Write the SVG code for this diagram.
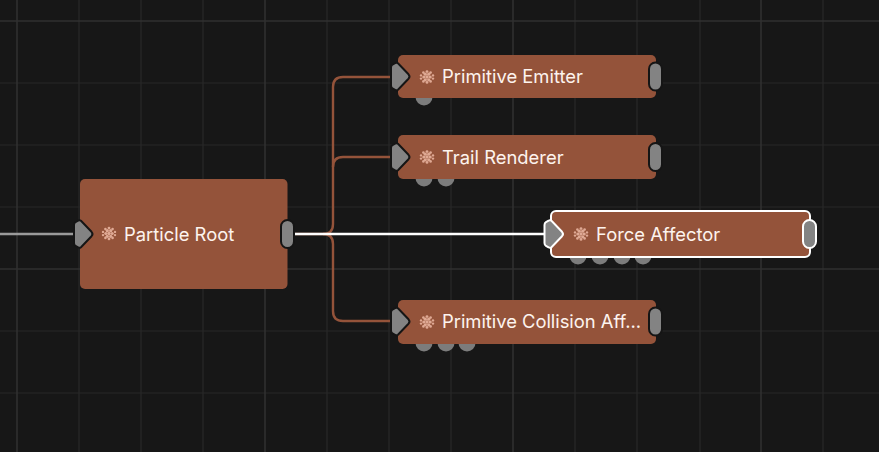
<svg xmlns="http://www.w3.org/2000/svg" width="879" height="452" viewBox="0 0 879 452">
<style>
.g{stroke:#282828;stroke-width:1.2;fill:none}
.G{stroke:#303030;stroke-width:1.6;fill:none}
.body{fill:#94533a}
.tab{fill:#7c7c7c}
.pin{fill:#838383;stroke:#151515;stroke-width:2}
.sel .pin{stroke:#fff}
.sel .body{stroke:#fff;stroke-width:2}
.lb{font-family:Inter,"Liberation Sans",sans-serif;font-size:18.4px;fill:#fdf3ee}
.c{fill:none;stroke:#94533a;stroke-width:2.4}
</style>
<defs>
<g id="ic" fill="#dfa994">
<circle cx="0" cy="0" r="1.7"/><circle cx="-3.2" cy="0" r="1.6"/><circle cx="3.2" cy="0" r="1.6"/>
<circle cx="-1.7" cy="-2.8" r="1.6"/><circle cx="1.7" cy="-2.8" r="1.6"/><circle cx="-1.7" cy="2.8" r="1.6"/><circle cx="1.7" cy="2.8" r="1.6"/>
<circle cx="0" cy="-5.4" r="1.4"/><circle cx="0" cy="5.4" r="1.4"/><circle cx="-3.6" cy="-4.4" r="1.3"/><circle cx="3.6" cy="-4.4" r="1.3"/><circle cx="-3.6" cy="4.4" r="1.3"/><circle cx="3.6" cy="4.4" r="1.3"/><circle cx="-6" cy="-1.6" r="1.2"/><circle cx="6" cy="-1.6" r="1.2"/><circle cx="-6" cy="1.6" r="1.2"/><circle cx="6" cy="1.6" r="1.2"/>
</g>
<path id="in" d="M-5 -9Q-5 -11 -3.500 -12L-1 -13.300Q0.500 -14.400 2 -13.200L12.500 -2.200Q14.500 0 12.500 2.200L2 13.200Q0.500 14.400 -1 13.300L-3.500 12Q-5 11 -5 9Z"/>
<rect id="out" x="-6.500" y="-14" width="13" height="28" rx="6.500"/>
</defs>
<rect width="879" height="452" fill="#171717"/>
<g id="grid">
<path class="g" d="M79 0V452M141 0V452M203 0V452M327 0V452M389 0V452M451 0V452M575 0V452M637 0V452M700 0V452M823 0V452M0 83H879M0 145H879M0 207H879M0 331H879M0 393H879"/>
<path class="G" d="M17 0V452M265 0V452M513 0V452M761 0V452M0 21H879M0 269H879"/>
</g>
<g id="connectors">
<path d="M0 234H76" fill="none" stroke="#9a9a9a" stroke-width="2.400"/>
<path class="c" d="M294 234H323Q333 234 333 224V87Q333 77 343 77H393"/>
<path class="c" d="M333 167Q333 157 343 157H393"/>
<path class="c" d="M323 234Q333 234 333 244V311Q333 321 343 321H393"/>
<path d="M294 234H546" fill="none" stroke="#fff" stroke-width="2.400"/>
</g>
<g id="particle-root">
<rect class="body" x="80" y="179" width="207.500" height="110" rx="5"/>
<use href="#in" class="pin" x="79" y="234"/>
<use href="#out" class="pin" x="287.500" y="234"/>
<use href="#ic" x="109" y="233.500"/>
<text class="lb" x="124" y="240.500">Particle Root</text>
</g>
<g id="primitive-emitter">
<circle class="tab" cx="424" cy="97" r="8.500"/>
<rect class="body" x="398" y="55" width="258" height="43" rx="5"/>
<use href="#in" class="pin" x="396" y="76.500"/>
<use href="#out" class="pin" x="655.500" y="76.500"/>
<use href="#ic" x="427" y="77"/>
<text class="lb" x="442" y="83">Primitive Emitter</text>
</g>
<g id="trail-renderer">
<circle class="tab" cx="424" cy="178" r="8.500"/><circle class="tab" cx="446" cy="178" r="8.500"/>
<rect class="body" x="398" y="135" width="258" height="44" rx="5"/>
<use href="#in" class="pin" x="396" y="157"/>
<use href="#out" class="pin" x="655.500" y="157"/>
<use href="#ic" x="427" y="157"/>
<text class="lb" x="442" y="163.500">Trail Renderer</text>
</g>
<g id="force-affector" class="sel">
<circle class="tab" cx="578" cy="256" r="8.500"/><circle class="tab" cx="600" cy="256" r="8.500"/><circle class="tab" cx="622" cy="256" r="8.500"/><circle class="tab" cx="643" cy="256" r="8.500"/>
<rect class="body" x="551" y="211" width="259" height="46" rx="5"/>
<use href="#in" class="pin" x="549.500" y="234"/>
<use href="#out" class="pin" x="809.500" y="234"/>
<use href="#ic" x="581" y="234"/>
<text class="lb" x="596" y="240.500">Force Affector</text>
</g>
<g id="primitive-collision-affector">
<circle class="tab" cx="424" cy="343" r="8.500"/><circle class="tab" cx="446" cy="343" r="8.500"/><circle class="tab" cx="467" cy="343" r="8.500"/>
<rect class="body" x="398" y="300" width="258" height="44" rx="5"/>
<use href="#in" class="pin" x="396" y="321.500"/>
<use href="#out" class="pin" x="655.500" y="321.500"/>
<use href="#ic" x="427" y="322"/>
<text class="lb" x="442" y="328" textLength="199" lengthAdjust="spacing">Primitive Collision Aff...</text>
</g>
</svg>
